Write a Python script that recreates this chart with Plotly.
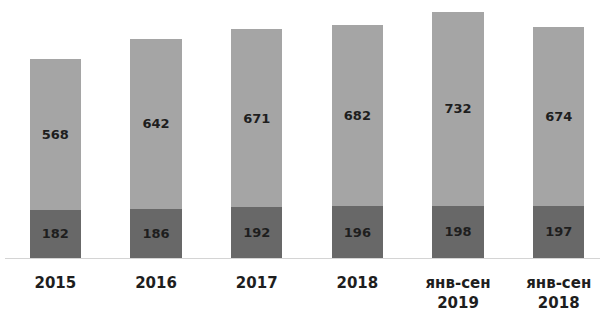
import plotly.graph_objects as go

categories = ["2015", "2016", "2017", "2018", "янв-сен<br>2019", "янв-сен<br>2018"]
bottom_values = [182, 186, 192, 196, 198, 197]
top_values = [568, 642, 671, 682, 732, 674]

label_font = dict(family="DejaVu Sans, sans-serif", size=13, color="#1e1e1e")

fig = go.Figure()
fig.add_trace(go.Bar(
    x=categories, y=bottom_values,
    marker=dict(color="#686868", line=dict(width=0)),
    text=[str(v) for v in bottom_values],
    textposition="inside", insidetextanchor="middle",
    textfont=label_font, texttemplate="<b>%{text}</b>",
    showlegend=False, hoverinfo="skip",
))
fig.add_trace(go.Bar(
    x=categories, y=top_values,
    marker=dict(color="#a5a5a5", line=dict(width=0)),
    text=[str(v) for v in top_values],
    textposition="inside", insidetextanchor="middle",
    textfont=label_font, texttemplate="<b>%{text}</b>",
    showlegend=False, hoverinfo="skip",
))

fig.update_layout(
    barmode="stack",
    bargap=0.49,
    width=600, height=326,
    margin=dict(l=5, r=0, t=0, b=68),
    paper_bgcolor="white", plot_bgcolor="white",
    uniformtext=dict(mode="show", minsize=8),
    xaxis=dict(
        type="category",
        range=[-0.5, 5.41],
        showline=True, linecolor="#d4d4d4", linewidth=1,
        showgrid=False, zeroline=False, ticks="",
        tickfont=dict(family="DejaVu Sans, sans-serif", size=15, color="#1e1e1e"),
        ticklabelstandoff=11,
        tickvals=categories,
        ticktext=["<b>" + c.replace("<br>", "</b><br><b>") + "</b>" for c in categories],
    ),
    yaxis=dict(range=[0, 973.6], visible=False, showgrid=False, zeroline=False),
)

fig.write_html("out.html")
